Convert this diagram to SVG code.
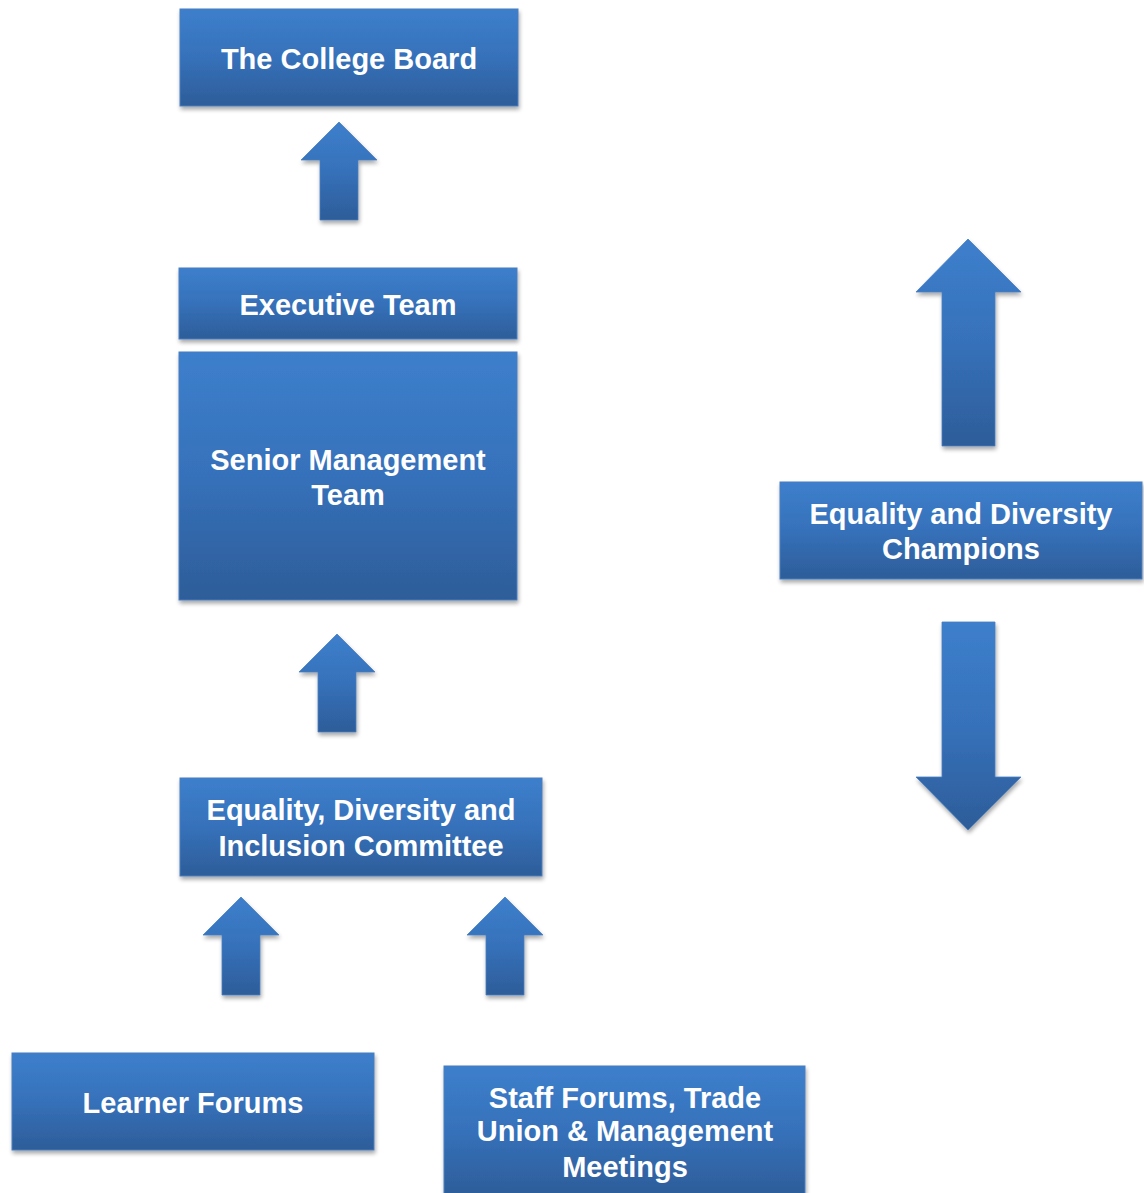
<svg xmlns="http://www.w3.org/2000/svg" width="1144" height="1193" viewBox="0 0 1144 1193">
<defs>
<linearGradient id="g" x1="0" y1="0" x2="0" y2="1">
<stop offset="0" stop-color="#3d7fcc"/>
<stop offset="0.5" stop-color="#3671ba"/>
<stop offset="1" stop-color="#2d5d99"/>
</linearGradient>
<filter id="sh" x="-10%" y="-10%" width="120%" height="130%">
<feGaussianBlur in="SourceAlpha" stdDeviation="2"/>
<feOffset dx="1" dy="3" result="b"/>
<feComponentTransfer><feFuncA type="linear" slope="0.35"/></feComponentTransfer>
<feMerge><feMergeNode/><feMergeNode in="SourceGraphic"/></feMerge>
</filter>
<style>
.box{fill:url(#g);stroke:#4a7fc0;stroke-width:1;filter:url(#sh)}
.arr{fill:url(#g);stroke:#4a7fc0;stroke-width:0.8;filter:url(#sh)}
.t{font-family:"Liberation Sans",Arial,sans-serif;font-weight:bold;font-size:29px;fill:#ffffff;text-anchor:middle}
</style>
</defs>
<rect width="1144" height="1193" fill="#ffffff"/>
<g id="connectors">
<path class="arr" d="M339,122 L377,160 L358,160 L358,220 L320,220 L320,160 L301,160 Z"/>
<path class="arr" d="M337,634 L375,672 L356,672 L356,732 L318,732 L318,672 L299,672 Z"/>
<path class="arr" d="M241,897 L279,935 L260,935 L260,995 L222,995 L222,935 L203,935 Z"/>
<path class="arr" d="M505,897 L543,935 L524,935 L524,995 L486,995 L486,935 L467,935 Z"/>
<path class="arr" d="M968,239 L1021,292 L995,292 L995,446 L942,446 L942,292 L916,292 Z"/>
<path class="arr" d="M942,622 L995,622 L995,777 L1021,777 L968,830 L916,777 L942,777 Z"/>
</g>
<g id="college-board">
<rect class="box" x="180" y="9" width="338" height="97"/>
<text class="t" x="349" y="69">The College Board</text>
</g>
<g id="executive-team">
<rect class="box" x="179" y="268" width="338" height="71"/>
<text class="t" x="348" y="315">Executive Team</text>
</g>
<g id="senior-management-team">
<rect class="box" x="179" y="352" width="338" height="248"/>
<text class="t" x="348" y="470">Senior Management</text>
<text class="t" x="348" y="505">Team</text>
</g>
<g id="edi-committee">
<rect class="box" x="180" y="778" width="362" height="98"/>
<text class="t" x="361" y="820">Equality, Diversity and</text>
<text class="t" x="361" y="856">Inclusion Committee</text>
</g>
<g id="learner-forums">
<rect class="box" x="12" y="1053" width="362" height="97"/>
<text class="t" x="193" y="1113">Learner Forums</text>
</g>
<g id="staff-forums">
<rect class="box" x="444" y="1066" width="361" height="130"/>
<text class="t" x="625" y="1108">Staff Forums, Trade</text>
<text class="t" x="625" y="1141">Union &amp; Management</text>
<text class="t" x="625" y="1177">Meetings</text>
</g>
<g id="champions">
<rect class="box" x="780" y="482" width="362" height="97"/>
<text class="t" x="961" y="524">Equality and Diversity</text>
<text class="t" x="961" y="559">Champions</text>
</g>
</svg>
